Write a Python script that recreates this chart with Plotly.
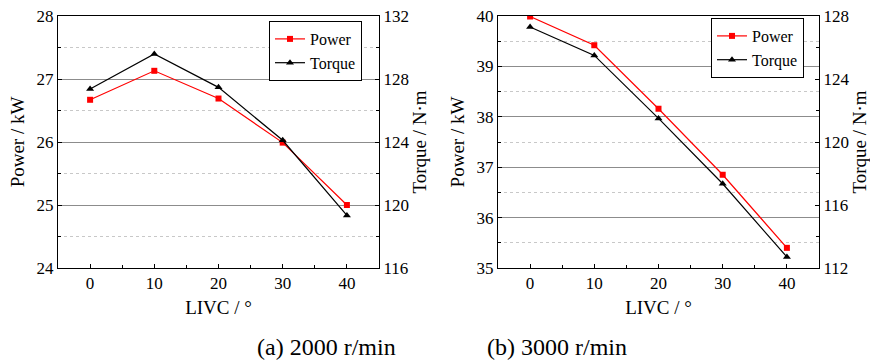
import plotly.graph_objects as go

livc = [0, 10, 20, 30, 40]
power_2000 = [26.67, 27.13, 26.69, 25.99, 25.00]
torque_2000 = [127.37, 129.59, 127.47, 124.11, 119.34]
power_3000 = [39.99, 39.42, 38.16, 36.85, 35.40]
torque_3000 = [127.30, 125.50, 121.50, 117.35, 112.70]

FONT = "Liberation Serif"
W, H = 870, 360
top, bot = 1 - 16 / H, 1 - 268 / H

fig = go.Figure()

def add_panel(i, p, t):
    xa = "x" if i == 1 else "x2"
    ya_p = "y" if i == 1 else "y3"
    ya_t = "y2" if i == 1 else "y4"
    leg = "legend" if i == 1 else "legend2"
    fig.add_trace(go.Scatter(x=livc, y=p, xaxis=xa, yaxis=ya_p, name="Power",
                             mode="lines+markers", line=dict(color="#ff0000", width=1.2),
                             marker=dict(symbol="square", size=6, color="#ff0000"), legend=leg))
    fig.add_trace(go.Scatter(x=livc, y=t, xaxis=xa, yaxis=ya_t, name="Torque",
                             mode="lines+markers", line=dict(color="#000000", width=1.2),
                             marker=dict(symbol="triangle-up", size=7, color="#000000"), legend=leg))

add_panel(1, power_2000, torque_2000)
add_panel(2, power_3000, torque_3000)

tickfont = dict(family=FONT, size=17, color="black")
titlefont = dict(family=FONT, size=19, color="black")

def xaxis(domain, anchor):
    return dict(domain=domain, anchor=anchor, range=[-5, 45], tickvals=livc,
                ticks="inside", ticklen=4, tickcolor="black", showline=True,
                linecolor="black", linewidth=1, mirror=True, showgrid=False, zeroline=False,
                automargin=False, tickfont=tickfont,
                title=dict(text="LIVC / °", font=titlefont, standoff=8),
                minor=dict(dtick=5, tick0=0, ticks="inside", ticklen=3, tickcolor="black"))

def yaxis_left(rng, dtick, anchor):
    return dict(domain=[bot, top], anchor=anchor, range=rng, dtick=dtick,
                ticks="inside", ticklen=4, tickcolor="black", showline=True,
                linecolor="black", linewidth=1, zeroline=False, showgrid=True,
                gridcolor="#8c8c8c", gridwidth=1, tickfont=tickfont, automargin=False,
                title=dict(text="Power / kW", font=titlefont, standoff=6),
                minor=dict(dtick=dtick / 2, showgrid=True, gridcolor="#c8c8c8",
                           griddash="dot", gridwidth=1, ticks="inside", ticklen=3, tickcolor="black"))

def yaxis_right(rng, dtick, anchor, overlay):
    return dict(domain=[bot, top], anchor=anchor, overlaying=overlay, side="right",
                range=rng, dtick=dtick, ticks="inside", ticklen=4, tickcolor="black",
                showline=True, linecolor="black", linewidth=1, zeroline=False, showgrid=False,
                tickfont=tickfont, automargin=False,
                title=dict(text="Torque / N·m", font=titlefont, standoff=2),
                minor=dict(dtick=dtick / 2, ticks="inside", ticklen=3, tickcolor="black"))

dom1 = [58 / W, 379 / W]
dom2 = [498 / W, 819 / W]

legfont = dict(family=FONT, size=16, color="black")

fig.update_layout(
    template="none",
    width=W, height=H, margin=dict(l=0, r=0, t=0, b=0, autoexpand=False),
    paper_bgcolor="white", plot_bgcolor="white",
    font=dict(family=FONT, color="black"),
    xaxis=xaxis(dom1, "y"),
    xaxis2=xaxis(dom2, "y3"),
    yaxis=yaxis_left([24, 28], 1, "x"),
    yaxis2=yaxis_right([116, 132], 4, "x", "y"),
    yaxis3=yaxis_left([35, 40], 1, "x2"),
    yaxis4=yaxis_right([112, 128], 4, "x2", "y3"),
    legend=dict(x=362 / W, y=1 - 21 / H, xanchor="right", yanchor="top",
                bordercolor="black", borderwidth=1, bgcolor="white",
                font=legfont, tracegroupgap=0, itemwidth=30),
    legend2=dict(x=804 / W, y=1 - 18 / H, xanchor="right", yanchor="top",
                 bordercolor="black", borderwidth=1, bgcolor="white",
                 font=legfont, tracegroupgap=0, itemwidth=30),
    showlegend=True,
    annotations=[
        dict(text="(a) 2000 r/min", x=326 / W, y=1 - 347 / H, xref="paper", yref="paper",
             yanchor="middle", showarrow=False, font=dict(family=FONT, size=24, color="black")),
        dict(text="(b) 3000 r/min", x=557 / W, y=1 - 347 / H, xref="paper", yref="paper",
             yanchor="middle", showarrow=False, font=dict(family=FONT, size=24, color="black")),
    ],
)

fig.write_html("out.html", config={"displayModeBar": False},
               post_script="document.body.style.margin='0';document.body.style.padding='0';")
